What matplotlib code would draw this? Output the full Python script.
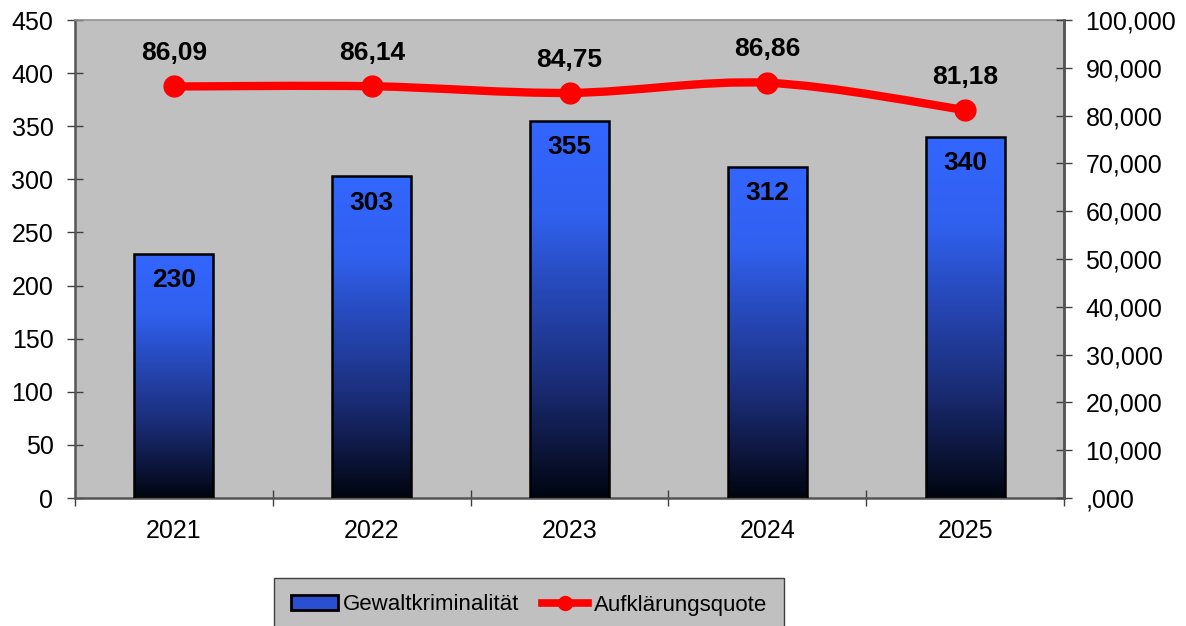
import numpy as np
import matplotlib
matplotlib.use("Agg")
import matplotlib.pyplot as plt
from matplotlib.colors import LinearSegmentedColormap
from matplotlib.path import Path
from matplotlib.patches import PathPatch, Rectangle
from matplotlib.lines import Line2D

plt.rcParams["font.family"] = ["Liberation Sans", "DejaVu Sans"]

# data
years = ["2021", "2022", "2023", "2024", "2025"]
gewalt = [230, 303, 355, 312, 340]
quote = [86.09, 86.14, 84.75, 86.86, 81.18]
quote_labels = ["86,09", "86,14", "84,75", "86,86", "81,18"]
left_ticks = [0, 50, 100, 150, 200, 250, 300, 350, 400, 450]
right_ticks = [0, 10, 20, 30, 40, 50, 60, 70, 80, 90, 100]
right_tick_labels = [",000", "10,000", "20,000", "30,000", "40,000", "50,000",
                     "60,000", "70,000", "80,000", "90,000", "100,000"]

fig = plt.figure(figsize=(11.86, 6.26), dpi=100)
ax = fig.add_axes([75 / 1186, 1 - 498 / 626, (1064 - 75) / 1186, (498 - 20) / 626])
ax.set_facecolor("#C0C0C0")

x = np.arange(len(years))
# bar fill: dark at the bottom, bright blue at the top
cmap = LinearSegmentedColormap.from_list(
    "bluegrad", [(0, "#00050f"), (0.1, "#0a1232"), (0.3, "#1a2c75"),
                 (0.55, "#2648b8"), (0.75, "#3060ee"), (1.0, "#3366ff")])

bars = ax.bar(x, gewalt, width=0.4, facecolor="none", edgecolor="black",
              linewidth=1.8, zorder=3)
grad = np.linspace(0, 1, 256).reshape(-1, 1)
for b in bars:
    x0, w, h = b.get_x(), b.get_width(), b.get_height()
    im = ax.imshow(grad, extent=[x0, x0 + w, 0, h], origin="lower", aspect="auto",
                   cmap=cmap, zorder=2)
    im.set_clip_path(b)

for xi, v in zip(x, gewalt):
    ax.annotate(str(v), (xi, v), xytext=(0, -19), textcoords="offset points",
                ha="center", va="center", fontsize=19, fontweight="bold", zorder=5)

ax.set_xlim(-0.5, len(years) - 0.5)
ax.set_ylim(0, 450)
ax.set_yticks(left_ticks)
ax.set_xticks(np.arange(len(years) + 1) - 0.5, minor=False)
ax.set_xticklabels([])
ax.set_xticks(x, minor=True)
ax.set_xticklabels(years, minor=True)
ax.tick_params(axis="x", which="minor", length=0, pad=15, labelsize=18)
ax.tick_params(axis="x", which="major", direction="inout", length=11, width=1, color="#404040")
ax.tick_params(axis="y", direction="inout", length=11, width=1, color="#404040",
               pad=10, labelsize=18)

for s in ["left", "bottom", "right"]:
    ax.spines[s].set_color("#555555")
    ax.spines[s].set_linewidth(1.8)
ax.spines["top"].set_color("#909090")
ax.spines["top"].set_linewidth(1.2)

ax2 = ax.twinx()
ax2.set_ylim(0, 100)
ax2.set_yticks(right_ticks)
ax2.set_yticklabels(right_tick_labels)
ax2.tick_params(axis="y", direction="inout", length=11, width=1, color="#404040",
                pad=10, labelsize=18)
for s in ["left", "bottom", "top"]:
    ax2.spines[s].set_visible(False)
ax2.spines["right"].set_color("#555555")
ax2.spines["right"].set_linewidth(1.8)

# smoothed line (Bezier segments like Excel)
pts = np.column_stack([x, quote]).astype(float)
verts = [tuple(pts[0])]
codes = [Path.MOVETO]
n = len(pts)
for i in range(n - 1):
    p_prev = pts[max(i - 1, 0)]
    p0, p1 = pts[i], pts[i + 1]
    p_next = pts[min(i + 2, n - 1)]
    c1 = p0 + (p1 - p_prev) / 6
    c2 = p1 - (p_next - p0) / 6
    verts += [tuple(c1), tuple(c2), tuple(p1)]
    codes += [Path.CURVE4] * 3
ax2.add_patch(PathPatch(Path(verts, codes), facecolor="none", edgecolor="#ff0000",
                        linewidth=6, capstyle="round", zorder=4))
ax2.plot(x, quote, linestyle="none", marker="o", markersize=15, color="#ff0000", zorder=5)
for xi, v, lab in zip(x, quote, quote_labels):
    ax2.annotate(lab, (xi, v), xytext=(0, 24), textcoords="offset points",
                 ha="center", va="center", fontsize=19, fontweight="bold")

handles = [Rectangle((0, 0), 1, 1, facecolor="#2a4fd0", edgecolor="black", linewidth=2),
           Line2D([], [], color="#ff0000", linewidth=5.5, marker="o", markersize=10)]
leg = fig.legend(handles, ["Gewaltkriminalität", "Aufklärungsquote"], loc="center",
                 bbox_to_anchor=(529 / 1186, 1 - 605 / 626), ncol=2, fontsize=16,
                 frameon=True, fancybox=False, edgecolor="#404040", facecolor="#C0C0C0",
                 framealpha=1, handlelength=2.1, handleheight=0.65, handletextpad=0.25,
                 columnspacing=1.0, borderpad=0.75)
leg.get_frame().set_linewidth(1.0)

fig.savefig("out.png", dpi=100)
